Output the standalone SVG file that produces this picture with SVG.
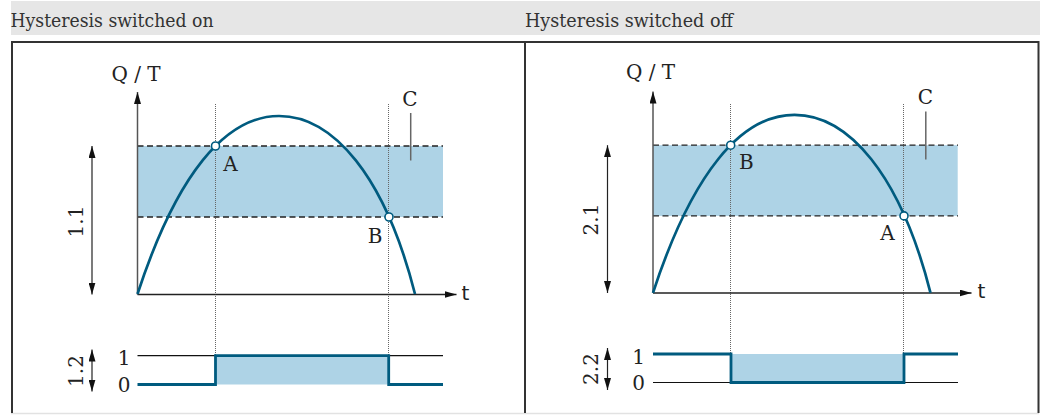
<svg xmlns="http://www.w3.org/2000/svg" width="1048" height="415" viewBox="0 0 1048 415">
  <style>
    .hdr { font-family: "DejaVu Serif", "Liberation Serif", serif; font-size: 18px; fill: #333; }
    .lbl { font-family: "DejaVu Serif", "Liberation Serif", serif; font-size: 20px; fill: #222; }
    .sans { font-family: "DejaVu Sans", "Liberation Sans", sans-serif; font-size: 20px; fill: #222; }
    .band { fill: #aed3e6; }
    .dash { stroke: #222; stroke-width: 1.3; stroke-dasharray: 6 3.5; fill: none; }
    .dot { stroke: #666; stroke-width: 1; stroke-dasharray: 1 1; fill: none; }
    .curve { stroke: #005b7f; stroke-width: 2.7; fill: none; }
    .sig { stroke: #005b7f; stroke-width: 2.8; fill: none; stroke-linejoin: miter; }
    .thin { stroke: #111; stroke-width: 1.2; fill: none; }
    .yaxis { stroke: #555; stroke-width: 1.5; fill: none; }
    .xaxis { stroke: #222; stroke-width: 1.5; fill: none; }
    .dim { stroke: #222; stroke-width: 1.2; fill: none; }
    .leader { stroke: #666; stroke-width: 1.5; fill: none; }
    .pt { fill: #fff; stroke: #005b7f; stroke-width: 1.6; }
    .frame { stroke: #333; stroke-width: 2; fill: none; }
  </style>
  <defs>
    <marker id="ah" markerUnits="userSpaceOnUse" markerWidth="12" markerHeight="7" refX="12" refY="3.5" orient="auto-start-reverse">
      <path d="M0,0 L12,3.5 L0,7 z" fill="#111"/>
    </marker>
  </defs>

  <!-- headers -->
  <g id="header-left">
    <rect x="11" y="1" width="514" height="34" fill="#e6e6e6"/>
    <text class="hdr" x="10.5" y="27" textLength="203" lengthAdjust="spacingAndGlyphs">Hysteresis switched on</text>
  </g>
  <g id="header-right">
    <rect x="525" y="1" width="515" height="34" fill="#e6e6e6"/>
    <text class="hdr" x="525" y="27" textLength="208" lengthAdjust="spacingAndGlyphs">Hysteresis switched off</text>
  </g>

  <!-- frame -->
  <g id="frame">
    <line x1="11" y1="413.5" x2="1039" y2="413.5" stroke="#e2e2e2" stroke-width="1.5"/>
    <path class="frame" d="M12,413 L12,42 L1038.5,42 L1038.5,413"/>
    <line class="frame" x1="525" y1="42" x2="525" y2="413" stroke-width="1.6"/>
  </g>

  <!-- left panel -->
  <g id="panel-left">
    <rect class="band" x="137.5" y="146" width="305.5" height="71"/>
    <rect class="band" x="215.5" y="355.7" width="173.2" height="28.8"/>
    <line class="dot" x1="215.5" y1="104" x2="215.5" y2="355"/>
    <line class="dot" x1="388.5" y1="104" x2="388.5" y2="355"/>
    <line class="dash" x1="137.5" y1="146" x2="443" y2="146"/>
    <line class="dash" x1="137.5" y1="217" x2="443" y2="217"/>
    <line class="leader" x1="410.7" y1="113" x2="410.7" y2="160.5"/>
    <line class="yaxis" x1="137.5" y1="294.5" x2="137.5" y2="92" marker-end="url(#ah)"/>
    <line class="xaxis" x1="137.5" y1="294.5" x2="456.5" y2="294.5" marker-end="url(#ah)"/>
    <path class="curve" d="M137.5,294 C176.4,175.2 225.1,116 279,116 C332.7,116 384.8,175.2 415,294"/>
    <circle class="pt" cx="215.5" cy="146" r="4"/>
    <circle class="pt" cx="389" cy="217" r="4"/>
    <line class="thin" x1="137.5" y1="355.7" x2="443" y2="355.7"/>
    <path class="sig" d="M137.5,384.5 L215.5,384.5 L215.5,355.7 L388.7,355.7 L388.7,384.5 L443,384.5"/>
    <line class="dim" x1="92" y1="146" x2="92" y2="294.5" marker-start="url(#ah)" marker-end="url(#ah)"/>
    <line class="dim" x1="92" y1="349.5" x2="92" y2="391.5" marker-start="url(#ah)" marker-end="url(#ah)"/>
    <text class="lbl" x="111.5" y="81">Q / T</text>
    <text class="lbl" x="410" y="105.8" text-anchor="middle">C</text>
    <text class="lbl" x="230.6" y="171.2" text-anchor="middle">A</text>
    <text class="lbl" x="375.2" y="243.2" text-anchor="middle">B</text>
    <text class="sans" x="461.5" y="299.5">t</text>
    <text class="lbl" transform="translate(82.5,221.5) rotate(-90)" text-anchor="middle">1.1</text>
    <text class="lbl" transform="translate(82.5,371) rotate(-90)" text-anchor="middle">1.2</text>
    <text class="lbl" x="124" y="364.9" text-anchor="middle">1</text>
    <text class="lbl" x="124" y="391.9" text-anchor="middle">0</text>
  </g>

  <!-- right panel -->
  <g id="panel-right">
    <rect class="band" x="653" y="145.2" width="304.7" height="70.7"/>
    <rect class="band" x="731" y="354" width="173" height="28.5"/>
    <line class="dot" x1="730.5" y1="104" x2="730.5" y2="353"/>
    <line class="dot" x1="903.5" y1="104" x2="903.5" y2="353"/>
    <line class="dash" x1="653" y1="145.2" x2="958" y2="145.2"/>
    <line class="dash" x1="653" y1="215.9" x2="958" y2="215.9"/>
    <line class="leader" x1="925.8" y1="111.5" x2="925.8" y2="159.5"/>
    <line class="yaxis" x1="653" y1="293" x2="653" y2="91.5" marker-end="url(#ah)"/>
    <line class="xaxis" x1="653" y1="293" x2="971.5" y2="293" marker-end="url(#ah)"/>
    <path class="curve" d="M653,292.8 C691.9,174 740.6,114.8 794.5,114.8 C848.2,114.8 900.3,174 930.5,292.8"/>
    <circle class="pt" cx="730.7" cy="145.2" r="4"/>
    <circle class="pt" cx="904" cy="215.9" r="4"/>
    <line class="thin" x1="653" y1="382.5" x2="958" y2="382.5"/>
    <path class="sig" d="M653,354 L731,354 L731,382.5 L904,382.5 L904,354 L958,354"/>
    <line class="dim" x1="607.5" y1="145.2" x2="607.5" y2="293" marker-start="url(#ah)" marker-end="url(#ah)"/>
    <line class="dim" x1="607.5" y1="348" x2="607.5" y2="390" marker-start="url(#ah)" marker-end="url(#ah)"/>
    <text class="lbl" x="626" y="79.2">Q / T</text>
    <text class="lbl" x="925.3" y="104.4" text-anchor="middle">C</text>
    <text class="lbl" x="746.3" y="169.4" text-anchor="middle">B</text>
    <text class="lbl" x="887.5" y="240.4" text-anchor="middle">A</text>
    <text class="sans" x="977.5" y="297.8">t</text>
    <text class="lbl" transform="translate(598,219.5) rotate(-90)" text-anchor="middle">2.1</text>
    <text class="lbl" transform="translate(598,369) rotate(-90)" text-anchor="middle">2.2</text>
    <text class="lbl" x="638.7" y="364" text-anchor="middle">1</text>
    <text class="lbl" x="638.7" y="390.2" text-anchor="middle">0</text>
  </g>
</svg>
